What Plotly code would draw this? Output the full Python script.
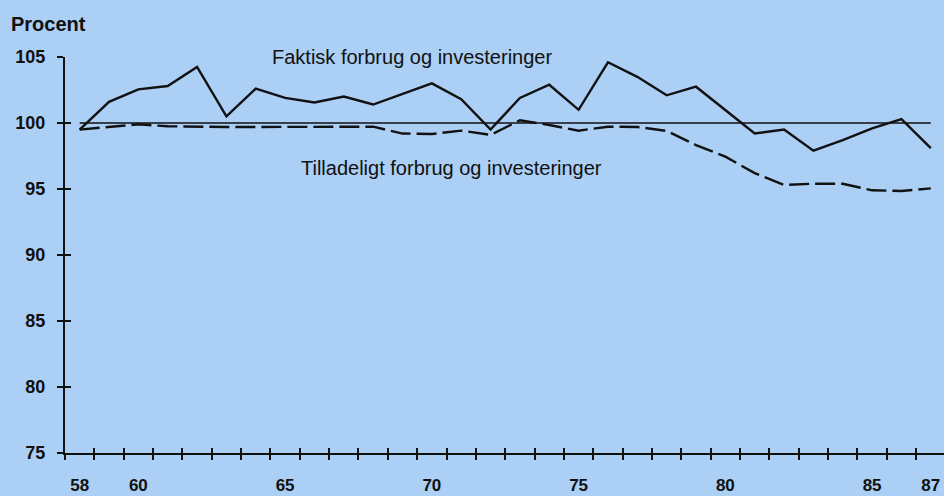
import plotly.graph_objects as go

years = list(range(58, 88))
faktisk = [99.5, 101.6, 102.55, 102.8, 104.25, 100.5, 102.6, 101.9, 101.55, 102.0,
           101.4, 102.2, 103.0, 101.8, 99.5, 101.9, 102.9, 101.0, 104.6, 103.5,
           102.1, 102.75, 101.0, 99.2, 99.5, 97.9, 98.7, 99.6, 100.3, 98.1]
tilladeligt = [99.5, 99.7, 99.9, 99.75, 99.7, 99.7, 99.7, 99.7, 99.7, 99.7,
               99.72, 99.2, 99.17, 99.42, 99.1, 100.2, 99.85, 99.42, 99.72, 99.7,
               99.4, 98.33, 97.45, 96.2, 95.3, 95.4, 95.4, 94.9, 94.85, 95.05]
reference = [100] * len(years)

label_years = [58, 60, 65, 70, 75, 80, 85, 87]
label_text = [str(y) for y in label_years]
y_ticks = [75, 80, 85, 90, 95, 100, 105]
boundaries = [y - 0.5 for y in years]

BG = "#abcff5"
INK = "#111111"
FONT = "Liberation Sans"

fig = go.Figure()
fig.add_trace(go.Scatter(x=years, y=reference, mode="lines",
                         line=dict(color=INK, width=1.5), hoverinfo="skip"))
fig.add_trace(go.Scatter(x=years, y=tilladeligt, mode="lines",
                         line=dict(color=INK, width=2.4, dash="20px,6px")))
fig.add_trace(go.Scatter(x=years, y=faktisk, mode="lines",
                         line=dict(color=INK, width=2.4)))

xr = [57.5, 87.45]
yr = [75, 105]

fig.update_layout(
    width=944, height=496,
    margin=dict(l=65, r=0, t=57, b=43),
    paper_bgcolor=BG, plot_bgcolor=BG,
    showlegend=False,
    font=dict(family=FONT, color=INK),
    xaxis=dict(range=xr, tickvals=label_years, ticktext=label_text,
               ticks="", showgrid=False, zeroline=False,
               showline=True, linecolor=INK, linewidth=2,
               tickfont=dict(family=FONT, size=17, color=INK, weight="bold"),
               ticklabelstandoff=16),
    xaxis2=dict(range=xr, overlaying="x", anchor="y", side="bottom",
                tickvals=boundaries, ticks="outside", ticklen=6, tickwidth=2,
                tickcolor=INK, showticklabels=False, showgrid=False,
                zeroline=False, showline=False),
    xaxis3=dict(range=xr, overlaying="x", anchor="y", side="bottom",
                tickvals=boundaries, ticks="inside", ticklen=5, tickwidth=2,
                tickcolor=INK, showticklabels=False, showgrid=False,
                zeroline=False, showline=False),
    yaxis=dict(range=yr, tickvals=y_ticks, ticks="outside", ticklen=6,
               tickwidth=2, tickcolor=INK, showgrid=False, zeroline=False,
               showline=True, linecolor=INK, linewidth=2,
               tickfont=dict(family=FONT, size=18, color=INK, weight="bold"),
               ticklabelstandoff=8),
    yaxis2=dict(range=yr, overlaying="y", anchor="x", side="left",
                tickvals=y_ticks, ticks="inside", ticklen=6, tickwidth=2,
                tickcolor=INK, showticklabels=False, showgrid=False,
                zeroline=False, showline=False),
)

# invisible traces to activate the overlay axes
fig.add_trace(go.Scatter(x=[years[0]], y=[100], xaxis="x2", yaxis="y",
                         mode="markers", marker=dict(opacity=0), hoverinfo="skip"))
fig.add_trace(go.Scatter(x=[years[0]], y=[100], xaxis="x3", yaxis="y2",
                         mode="markers", marker=dict(opacity=0), hoverinfo="skip"))

fig.add_annotation(text="<b>Procent</b>", xref="paper", yref="paper",
                   x=0, y=1, xanchor="left", yanchor="middle",
                   xshift=-56, yshift=33, showarrow=False,
                   font=dict(family=FONT, size=20, color=INK))
fig.add_annotation(text="Faktisk forbrug og investeringer", x=69.32, y=104.97,
                   xanchor="center", yanchor="middle", showarrow=False,
                   font=dict(family=FONT, size=20, color=INK))
fig.add_annotation(text="Tilladeligt forbrug og investeringer", x=70.67, y=96.6,
                   xanchor="center", yanchor="middle", showarrow=False,
                   font=dict(family=FONT, size=20, color=INK))

fig.write_html("out.html",
               post_script="document.body.style.margin='0';"
                           "document.body.style.background='" + BG + "';"
                           "var mb=document.querySelector('.modebar-container');"
                           "if(mb){mb.style.display='none';}")
